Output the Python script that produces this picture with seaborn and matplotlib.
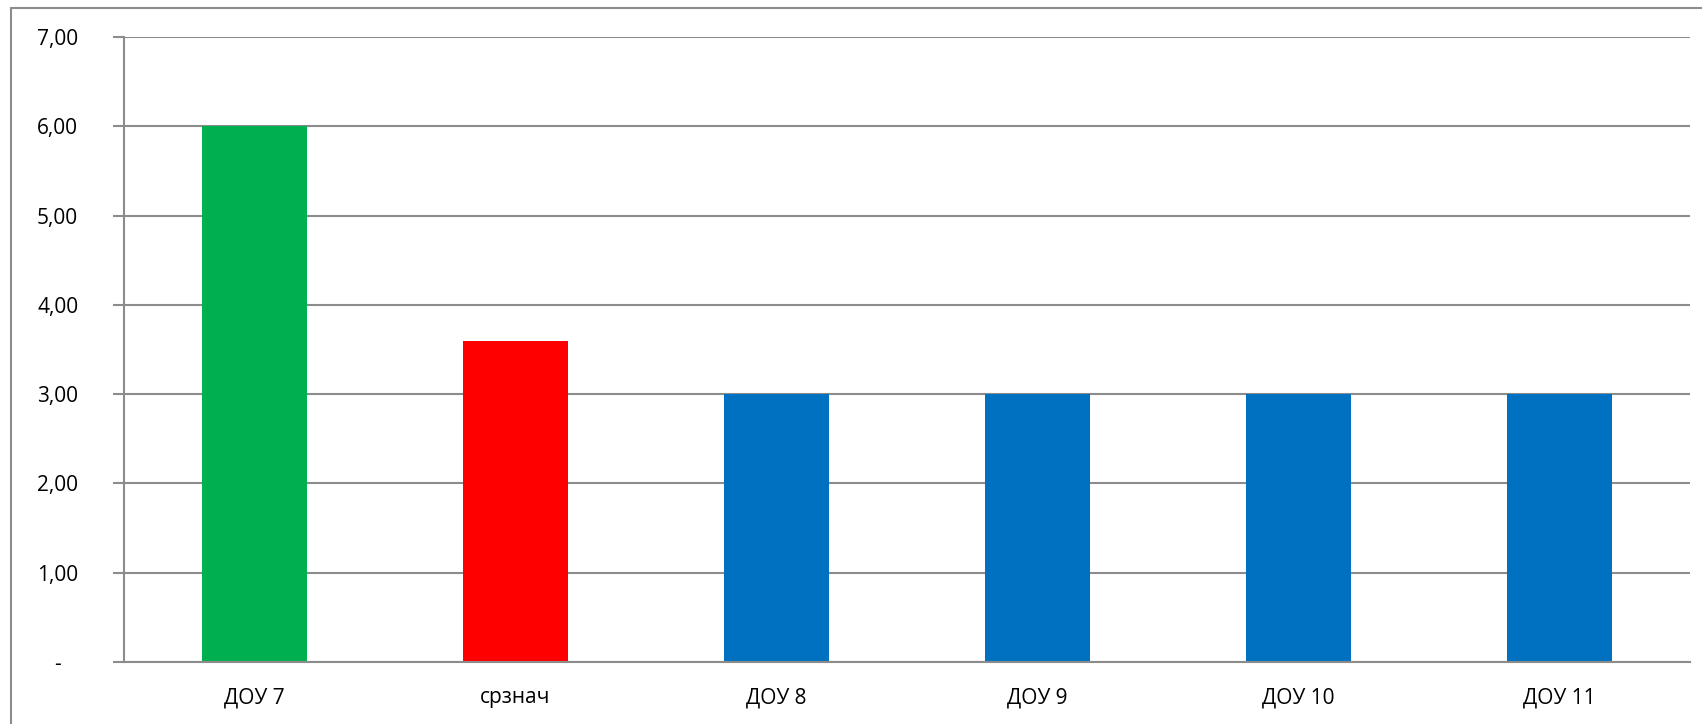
import matplotlib
matplotlib.use("Agg")
import matplotlib.pyplot as plt
import matplotlib.patches as mpatches
import seaborn as sns
import pandas as pd

# Données du graphique
categories = ["ДОУ 7", "срзнач", "ДОУ 8", "ДОУ 9", "ДОУ 10", "ДОУ 11"]
values = [6.00, 3.60, 3.00, 3.00, 3.00, 3.00]
colors = ["#00B050", "#FF0000", "#0070C0", "#0070C0", "#0070C0", "#0070C0"]
y_ticks = [0, 1, 2, 3, 4, 5, 6, 7]
y_labels = ["-   ", "1,00", "2,00", "3,00", "4,00", "5,00", "6,00", "7,00"]

df = pd.DataFrame({"cat": categories, "val": values})

sns.set_style("white")
plt.rcParams["font.family"] = ["Open Sans", "DejaVu Sans"]
plt.rcParams["text.color"] = "black"
plt.rcParams["xtick.labelcolor"] = "black"
plt.rcParams["ytick.labelcolor"] = "black"

fig = plt.figure(figsize=(17.02, 7.24), dpi=100)
ax = fig.add_axes([124 / 1702, 1 - 662 / 724, (1690 - 124) / 1702, (662 - 37) / 724])

sns.barplot(data=df, x="cat", y="val", hue="cat", palette=colors,
            width=0.4, legend=False, ax=ax, saturation=1, linewidth=0)

grid_col = "#8c8c8c"
ax.set_ylim(0, 7)
ax.set_xlim(-0.5, len(categories) - 0.5)
ax.set_yticks(y_ticks)
ax.set_yticklabels(y_labels)
ax.yaxis.grid(True, color=grid_col, linewidth=1.5)
ax.set_axisbelow(True)
ax.set_xlabel("")
ax.set_ylabel("")

# Ticks de l'axe X aux frontières des catégories
ax.set_xticks([i - 0.5 for i in range(len(categories) + 1)], minor=True)
ax.tick_params(axis="x", which="minor", length=9, width=1.5, color=grid_col, direction="out")
ax.tick_params(axis="x", which="major", length=0, pad=18, labelsize=15)
ax.tick_params(axis="y", length=8, width=1.5, color=grid_col, pad=25, labelsize=15, left=True)

for side in ["top", "right"]:
    ax.spines[side].set_visible(False)
for side in ["left", "bottom"]:
    ax.spines[side].set_color(grid_col)
    ax.spines[side].set_linewidth(1.5)

# Cadre extérieur du graphique
frame = mpatches.Rectangle((11 / 1702, -0.05), 1.2, 1 - 8 / 724 + 0.05,
                           transform=fig.transFigure, fill=False,
                           edgecolor=grid_col, linewidth=1.5)
fig.patches.append(frame)

fig.savefig("out.png", dpi=100)
